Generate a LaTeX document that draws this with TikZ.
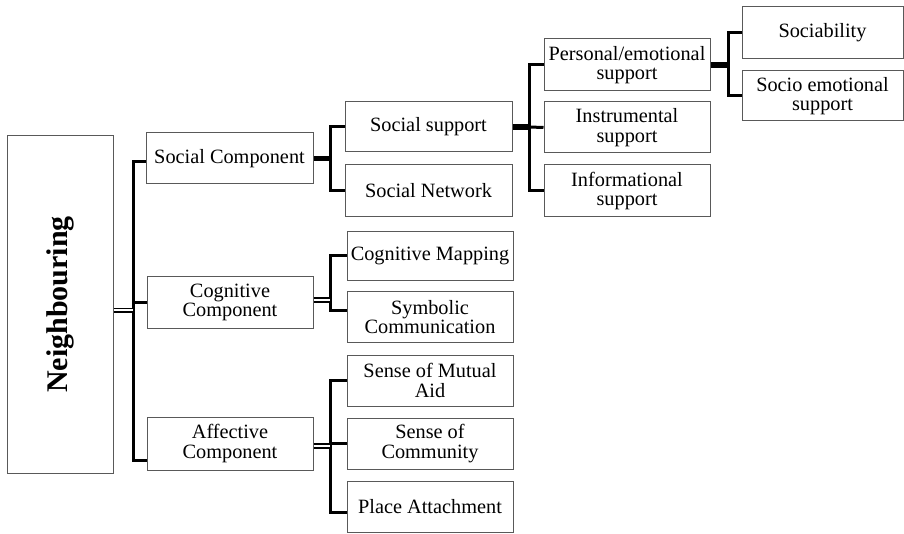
\documentclass[tikz,border=0pt]{standalone}
\usepackage{fontspec}
\setmainfont{Liberation Serif}
\begin{document}
\begin{tikzpicture}[x=1pt,y=-1pt,
  box/.style={draw=black!65, line width=1pt, inner sep=0pt, align=center,
    font=\fontsize{20.3}{19.5}\selectfont, minimum width=166pt, minimum height=51pt},
  conn/.style={line width=3pt, black},
  stub/.style={line width=5.5pt, black},
  dstub/.style={double=white, double distance=2pt, line width=1.8pt, black}]
\useasboundingbox (0,0) rectangle (904,534);
% nodes
\node[box, minimum width=106pt, minimum height=337pt] (neigh) at (60,304.5)
  {\rotatebox{90}{\fontsize{30}{30}\selectfont\bfseries Neighbouring}};
\node[box, minimum width=167pt] (soc) at (229.5,158.5) {Social Component};
\node[box] (cog) at (230,302.5) {Cognitive\\Component};
\node[box, minimum height=53pt] (aff) at (230,443.5) {Affective\\Component};
\node[box, minimum width=167pt, minimum height=50pt] (ssup) at (428.5,127) {Social support};
\node[box, minimum width=167pt, minimum height=52pt] (snet) at (428.5,191) {Social Network};
\node[box, minimum height=49pt] (cmap) at (430,256) {Cognitive Mapping};
\node[box, minimum height=50pt] (symb) at (430,317) {Symbolic\\Communication};
\node[box] (mutual) at (430,380.5) {Sense of Mutual\\Aid};
\node[box] (comm) at (430,443.5) {Sense of\\Community};
\node[box] (place) at (430,506.5) {Place Attachment};
\node[box, minimum height=52pt] (pers) at (627,65) {Personal/emotional\\support};
\node[box] (instr) at (627,127.5) {Instrumental\\support};
\node[box, minimum height=52pt] (info) at (627,191) {Informational\\support};
\node[box, minimum width=161pt, minimum height=52pt] (sociab) at (822.5,33) {Sociability};
\node[box, minimum width=161pt, minimum height=50pt] (socem) at (822.5,96) {Socio emotional\\support};
% junction coordinates
\coordinate (j0) at (133,302.5);
\coordinate (j1) at (330,158.5);
\coordinate (j2) at (330,300);
\coordinate (j3) at (330,446);
\coordinate (j4) at (529,127);
\coordinate (j5) at (728,65);
% connectors
\draw[conn] ([yshift=-3.5pt]soc.west) -| (j0) |- ([yshift=-16.5pt]aff.west);
\draw[conn] (j0) -- (cog.west);
\draw[dstub] ([yshift=-6pt]neigh.east) -- ([yshift=-6pt]neigh.east -| j0);
\draw[conn] (ssup.west) -| (j1) |- (snet.west);
\draw[stub] (soc.east) -- (j1);
\draw[conn] (cmap.west) -| (j2) |- ([yshift=6pt]symb.west);
\draw[dstub] (cog.east |- j2) -- (j2);
\draw[conn] (mutual.west) -| (j3) |- ([yshift=-5.5pt]place.west);
\draw[conn] (j3 |- comm.west) -- (comm.west);
\draw[dstub] (aff.east |- j3) -- (j3);
\draw[conn] (pers.west) -| (j4) |- (info.west);
\draw[conn] (j4) -- (instr.west);
\draw[stub] (ssup.east) -- (j4);
\draw[conn] (sociab.west) -| (j5) |- (socem.west);
\draw[stub] (pers.east) -- (j5);
\end{tikzpicture}
\end{document}
